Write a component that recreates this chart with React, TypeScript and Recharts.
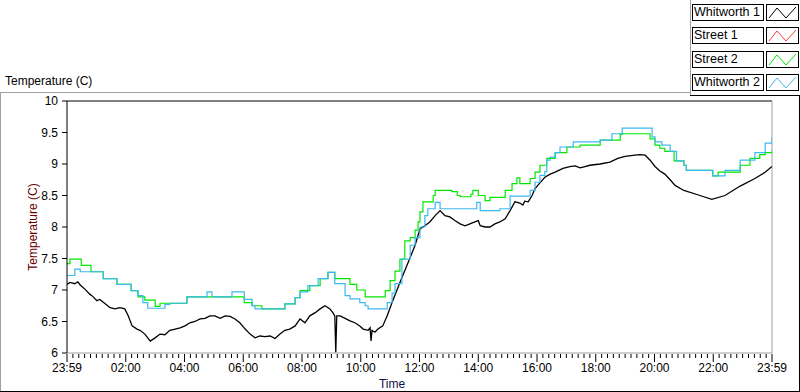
import React from 'react';
import { LineChart, Line, XAxis, YAxis, ReferenceLine } from 'recharts';

// time in minutes after 23:59, temperature in C
const whitworth1: [number, number][] = [
  [0, 7.09], [6, 7.12], [16, 7.1], [22, 7.13], [27, 7.08], [37, 7.01], [47, 6.93], [51, 6.91],
  [61, 6.83], [67, 6.85], [78, 6.78], [88, 6.72], [98, 6.7], [108, 6.72], [118, 6.7], [125, 6.59],
  [133, 6.43], [143, 6.38], [149, 6.36], [159, 6.3], [170, 6.19], [180, 6.24], [190, 6.3], [200, 6.29],
  [210, 6.36], [221, 6.38], [231, 6.4], [241, 6.43], [251, 6.48], [261, 6.5], [272, 6.54], [282, 6.55],
  [292, 6.59], [302, 6.59], [313, 6.55], [323, 6.59], [333, 6.58], [343, 6.54], [353, 6.48], [364, 6.38],
  [374, 6.3], [384, 6.24], [394, 6.27], [404, 6.26], [415, 6.27], [425, 6.23], [435, 6.3], [445, 6.36],
  [455, 6.38], [466, 6.43], [476, 6.54], [486, 6.48], [496, 6.59], [507, 6.64], [517, 6.7], [527, 6.75],
  [537, 6.7], [543, 6.64], [547, 6.59], [549, 6.01], [551, 6.59], [558, 6.59], [568, 6.55], [578, 6.51],
  [588, 6.48], [598, 6.43], [605, 6.38], [615, 6.36], [619, 6.4], [621, 6.19], [623, 6.36], [629, 6.33],
  [635, 6.38], [645, 6.43], [654, 6.59], [664, 6.8], [680, 7.12], [697, 7.44], [711, 7.71], [721, 7.97],
  [731, 8.02], [741, 8.08], [752, 8.18], [762, 8.26], [772, 8.18], [782, 8.16], [793, 8.1], [803, 8.05],
  [813, 8.02], [823, 8.05], [833, 8.08], [840, 8.1], [844, 8.02], [854, 8.0], [864, 8.0], [874, 8.05],
  [884, 8.08], [895, 8.13], [905, 8.26], [915, 8.4], [925, 8.38], [931, 8.35], [935, 8.41], [942, 8.4],
  [950, 8.5], [956, 8.61], [966, 8.7], [976, 8.79], [987, 8.84], [997, 8.87], [1013, 8.93], [1027, 8.96],
  [1038, 8.97], [1048, 8.94], [1058, 8.96], [1068, 8.98], [1089, 9.0], [1109, 9.03], [1125, 9.09],
  [1140, 9.12], [1160, 9.14], [1170, 9.15], [1181, 9.14], [1191, 9.06], [1201, 8.96], [1211, 8.89],
  [1221, 8.84], [1232, 8.75], [1242, 8.66], [1260, 8.58], [1293, 8.5], [1317, 8.44], [1344, 8.5],
  [1375, 8.65], [1405, 8.77], [1426, 8.87], [1440, 8.96],
];

const street2: [number, number][] = [
  [0, 7.42], [6, 7.49], [29, 7.39], [49, 7.29], [74, 7.18], [102, 7.09], [131, 6.99], [145, 6.89],
  [159, 6.84], [180, 6.74], [190, 6.79], [245, 6.89], [362, 6.8], [378, 6.75], [398, 6.7], [445, 6.78],
  [466, 6.88], [476, 6.99], [496, 7.07], [517, 7.18], [533, 7.28], [547, 7.18], [578, 7.09], [592, 7.0],
  [609, 6.89], [650, 6.99], [660, 7.15], [670, 7.3], [680, 7.49], [690, 7.78], [701, 7.83], [711, 7.95],
  [717, 8.08], [721, 8.24], [727, 8.4], [748, 8.5], [752, 8.58], [786, 8.56], [797, 8.5], [803, 8.48],
  [825, 8.52], [829, 8.58], [840, 8.5], [854, 8.42], [864, 8.47], [895, 8.58], [909, 8.69], [919, 8.78],
  [925, 8.69], [946, 8.77], [956, 8.87], [966, 8.98], [980, 9.09], [997, 9.18], [1021, 9.27], [1048, 9.3],
  [1089, 9.38], [1130, 9.47], [1134, 9.48], [1191, 9.4], [1201, 9.3], [1211, 9.25], [1221, 9.2],
  [1240, 9.05], [1260, 8.98], [1265, 8.9], [1319, 8.81], [1330, 8.87], [1375, 8.98], [1395, 9.09],
  [1415, 9.15], [1426, 9.18], [1440, 9.22],
];

const whitworth2: [number, number][] = [
  [0, 7.23], [16, 7.33], [27, 7.29], [74, 7.18], [102, 7.09], [131, 6.99], [145, 6.91], [155, 6.8],
  [165, 6.71], [200, 6.77], [210, 6.79], [245, 6.89], [286, 6.97], [296, 6.89], [337, 6.97], [362, 6.85],
  [378, 6.75], [384, 6.7], [445, 6.78], [466, 6.88], [476, 6.97], [492, 7.07], [513, 7.18], [533, 7.28],
  [547, 7.1], [568, 6.91], [578, 6.86], [598, 6.8], [609, 6.75], [615, 6.7], [654, 6.8], [664, 6.95],
  [670, 7.1], [684, 7.49], [701, 7.71], [711, 7.83], [721, 8.0], [731, 8.18], [737, 8.29], [752, 8.39],
  [762, 8.29], [837, 8.39], [844, 8.26], [884, 8.29], [905, 8.49], [946, 8.58], [956, 8.71], [966, 8.82],
  [976, 8.88], [980, 9.06], [987, 9.11], [997, 9.18], [1007, 9.27], [1034, 9.35], [1089, 9.38],
  [1113, 9.48], [1134, 9.57], [1195, 9.43], [1201, 9.35], [1215, 9.3], [1232, 9.2], [1245, 9.05],
  [1260, 8.98], [1265, 8.9], [1319, 8.81], [1344, 8.9], [1375, 9.06], [1405, 9.18], [1426, 9.33],
  [1440, 9.43],
];

const xLabels = ['23:59', '02:00', '04:00', '06:00', '08:00', '10:00', '12:00', '14:00', '16:00', '18:00', '20:00', '22:00', '23:59'];
const yTicks = [6, 6.5, 7, 7.5, 8, 8.5, 9, 9.5, 10];

const legendItems = [
  { name: 'Whitworth 1', color: '#000000' },
  { name: 'Street 1', color: '#ff3b3b' },
  { name: 'Street 2', color: '#00e800' },
  { name: 'Whitworth 2', color: '#3cb8f0' },
];

const toPoints = (rows: [number, number][]) => rows.map(([t, v]) => ({ t, v }));

const minorTicks: number[] = [];
for (let m = 0; m <= 1440; m += 12) minorTicks.push(m);

const FONT = '"Liberation Sans", Arial, sans-serif';

function XTick(props: any) {
  const { x, y, payload } = props;
  const v = payload.value;
  const major = v % 120 === 0;
  return (
    <g>
      <line x1={x} x2={x} y1={y + 1} y2={y + (major ? 9 : 5)} stroke="#000" />
      {major && (
        <text x={x} y={y + 19} textAnchor="middle" fontSize={12} fill="#000" fontFamily={FONT}>
          {xLabels[v / 120]}
        </text>
      )}
    </g>
  );
}

function LegendIcon({ color }: { color: string }) {
  return (
    <svg width={31} height={17} style={{ display: 'block' }}>
      <polyline points="2,13 10,3 19,13 29,2" fill="none" stroke={color} strokeWidth={1} />
    </svg>
  );
}

export default function App() {
  return (
    <div
      style={{
        position: 'absolute',
        left: 0,
        top: 0,
        width: 800,
        height: 392,
        background: '#fff',
        fontFamily: FONT,
        overflow: 'hidden',
      }}
    >
      {/* outer panel frame */}
      <div style={{ position: 'absolute', left: 0, top: 92, width: 690, height: 1, background: '#a0a0a0' }} />
      <div style={{ position: 'absolute', left: 0, top: 92, width: 1, height: 300, background: '#a0a0a0' }} />
      <div style={{ position: 'absolute', left: 0, top: 391, width: 800, height: 1, background: '#000' }} />
      <div style={{ position: 'absolute', left: 799, top: 95, width: 1, height: 297, background: '#000' }} />
      <div style={{ position: 'absolute', left: 690, top: 0, width: 1, height: 96, background: '#a0a0a0' }} />
      <div style={{ position: 'absolute', left: 690, top: 95, width: 110, height: 1, background: '#000' }} />

      <div style={{ position: 'absolute', left: 5, top: 74, fontSize: 12, color: '#000', whiteSpace: 'nowrap' }}>
        Temperature (C)
      </div>

      {legendItems.map((item, i) => (
        <div key={item.name} style={{ position: 'absolute', left: 692, top: 4 + i * 23.3 }}>
          <div
            style={{
              position: 'absolute',
              left: 0,
              top: 0,
              width: 69,
              height: 15,
              border: '1px solid #000',
              background: '#fff',
              fontSize: 12.5,
              lineHeight: '15px',
              paddingLeft: 1,
              boxSizing: 'content-box',
              whiteSpace: 'nowrap',
            }}
          >
            {item.name}
          </div>
          <div
            style={{
              position: 'absolute',
              left: 74,
              top: 0,
              width: 31,
              height: 15,
              border: '1px solid #000',
              background: '#fff',
            }}
          >
            <LegendIcon color={item.color} />
          </div>
        </div>
      ))}

      <div
        style={{
          position: 'absolute',
          left: 33,
          top: 227,
          transform: 'translate(-50%, -50%) rotate(-90deg)',
          fontSize: 12,
          color: '#6a0000',
          whiteSpace: 'nowrap',
        }}
      >
        Temperature (C)
      </div>
      <div
        style={{
          position: 'absolute',
          left: 392,
          top: 377,
          transform: 'translateX(-50%)',
          fontSize: 12,
          color: '#10104a',
        }}
      >
        Time
      </div>

      <div style={{ position: 'absolute', left: 0, top: 0 }}>
        <LineChart width={800} height={392} margin={{ top: 101, right: 28, bottom: 0, left: 0 }}>
          <XAxis
            dataKey="t"
            type="number"
            domain={[0, 1440]}
            ticks={minorTicks}
            interval={0}
            height={39}
            tickSize={0}
            tickMargin={0}
            tickLine={false}
            axisLine={{ stroke: '#a0a0a0' }}
            tick={<XTick />}
            allowDataOverflow
          />
          <YAxis
            type="number"
            domain={[6, 10]}
            ticks={yTicks}
            interval={0}
            width={67}
            tickSize={5}
            tickMargin={4}
            tickLine={{ stroke: '#000' }}
            axisLine={{ stroke: '#000' }}
            tick={{ fill: '#000', fontSize: 12, fontFamily: FONT }}
            allowDataOverflow
          />
          <ReferenceLine y={10} stroke="#000" />
          <ReferenceLine x={1440} stroke="#a0a0a0" />
          <Line
            data={toPoints(whitworth1)}
            dataKey="v"
            stroke="#000000"
            strokeWidth={1.3}
            dot={false}
            activeDot={false}
            isAnimationActive={false}
            type="linear"
          />
          <Line
            data={toPoints(street2)}
            dataKey="v"
            stroke="#00e800"
            strokeWidth={1.2}
            dot={false}
            activeDot={false}
            isAnimationActive={false}
            type="stepAfter"
          />
          <Line
            data={toPoints(whitworth2)}
            dataKey="v"
            stroke="#3cb8f0"
            strokeWidth={1.2}
            dot={false}
            activeDot={false}
            isAnimationActive={false}
            type="stepAfter"
          />
        </LineChart>
      </div>
    </div>
  );
}
